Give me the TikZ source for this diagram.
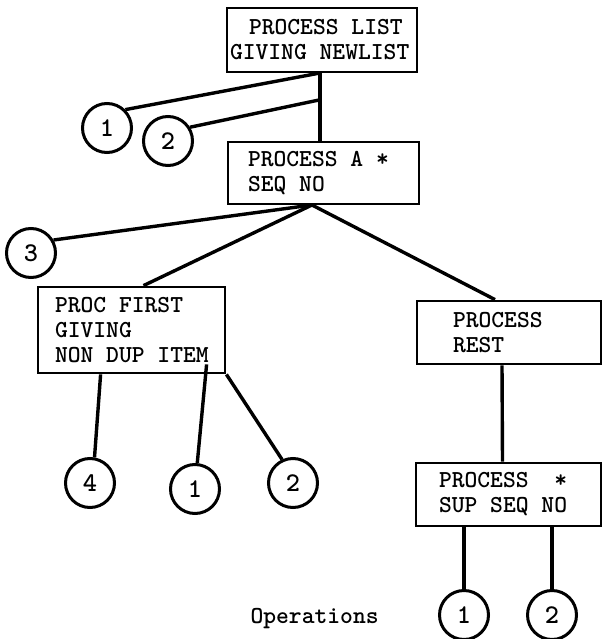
\documentclass[tikz,border=0pt]{standalone}
\usepackage{fontspec}
\usetikzlibrary{calc}
\newcommand{\typefont}{\ttfamily\bfseries\fontsize{24.4}{25}\selectfont}
% one full character cell of the typewriter face
\newcommand{\cell}{\hphantom{X}}
\begin{document}
\begin{tikzpicture}[x=1pt,y=-1pt,
  every node/.style={font=\typefont},
  opbox/.style={draw, line width=2.8pt, align=left, inner xsep=0pt, inner ysep=0pt},
  ref/.style={draw, circle, line width=3pt, minimum size=49pt, inner sep=0pt,
    font=\ttfamily\bfseries\fontsize{27}{27}\selectfont},
  link/.style={line width=3.4pt}]
\useasboundingbox (0,0) rectangle (604,639);

% operation boxes
\node[opbox, text width=190pt, minimum height=64pt] (b1) at (322,40)
  {\hspace*{22pt}PROCESS\cell LIST\\\hspace*{3pt}GIVING\cell NEWLIST};
\node[opbox, text width=191pt, minimum height=62pt] (b2) at (323.5,173)
  {\hspace*{20pt}PROCESS\cell A\cell *\\\hspace*{20pt}SEQ\cell NO};
\node[opbox, text width=187pt, minimum height=86pt] (b3) at (131.5,330)
  {\hspace*{17pt}PROC\cell FIRST\\\hspace*{17pt}GIVING\\\hspace*{17pt}NON\cell DUP\cell ITEM};
\node[opbox, text width=184pt, minimum height=63pt] (b4) at (509,332.5)
  {\hspace*{36pt}PROCESS\\\hspace*{36pt}REST};
\node[opbox, text width=185pt, minimum height=63pt] (b5) at (508.5,494.5)
  {\hspace*{23pt}PROCESS\cell\cell *\\\hspace*{23pt}SUP\cell SEQ\cell NO};

% numbered references
\node[ref] (c1) at (107,128) {1};
\node[ref] (c2) at (168,141) {2};
\node[ref] (c3) at (31,253) {3};
\node[ref] (c4) at (90,483) {4};
\node[ref] (c5) at (195,489) {1};
\node[ref] (c6) at (293,483) {2};
\node[ref] (c7) at (464,615) {1};
\node[ref] (c8) at (552,615) {2};

\node[anchor=base west] (ops) at (247,623) {Operations};

% junction points
\coordinate (j1) at (320,73);
\coordinate (j2) at (319,100);
\coordinate (j3) at (312,205);

% connectors
\draw[link] (j1) -- (j1 |- b2.north);
\draw[link] (j1) -- (c1.45);
\draw[link] (j2) -- (c2.32);
\draw[link] (c3.30) -- (j3);
\draw[link] (j3) -- ([xshift=12pt]b3.north);
\draw[link] (j3) -- ([xshift=-14pt]b4.north);
\draw[link] ([xshift=-7pt]b4.south) -- ([xshift=-6pt]b5.north);
\draw[link] (b5.south -| c7.north) -- (c7.north);
\draw[link] (b5.south -| c8.north) -- (c8.north);
\draw[link] ($(b3.south west)+(64,0)$) -- (c4.80);
\draw[link] ($(b3.south west)+(170,-10)$) -- (c5.85);
\draw[link] (b3.south east) -- (c6.115);
\end{tikzpicture}
\end{document}
